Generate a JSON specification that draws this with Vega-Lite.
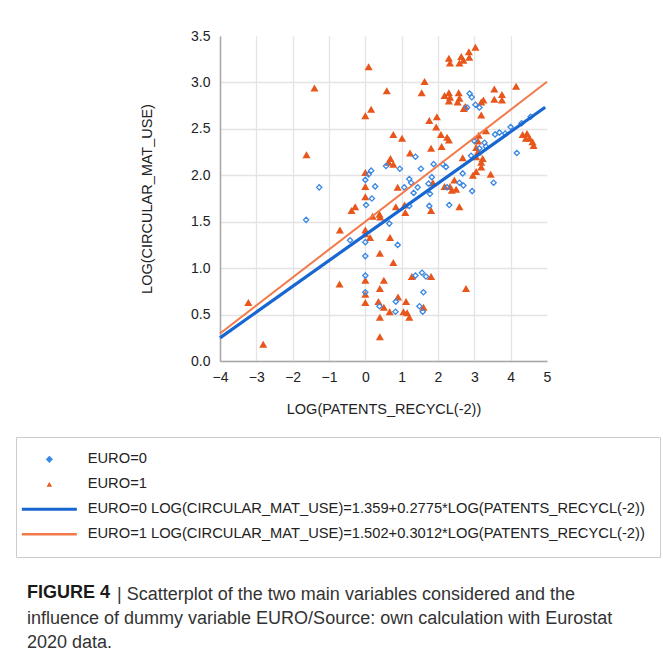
{
  "$schema": "https://vega.github.io/schema/vega-lite/v6.json",
  "autosize": {"type": "none"},
  "padding": {"left": 220, "top": 36, "right": 116, "bottom": 295},
  "width": 327,
  "height": 325,
  "background": "white",
  "config": {"view": {"stroke": null}, "font": "Liberation Sans"},
  "title": {
    "text": "FIGURE 4",
    "subtitle": [
      "\u200b\u2007\u2007\u2007\u2007\u2007\u2007\u2007\u2007\u2007| Scatterplot of the two main variables considered and the",
      "influence of dummy variable EURO/Source: own calculation with Eurostat",
      "2020 data."
    ],
    "orient": "bottom",
    "anchor": "start",
    "frame": "group",
    "offset": 26,
    "dx": -193,
    "font": "Liberation Sans",
    "fontSize": 18,
    "fontWeight": "bold",
    "color": "#1a1a1a",
    "lineHeight": 24,
    "subtitleFont": "Liberation Sans",
    "subtitleFontSize": 18,
    "subtitleFontWeight": "normal",
    "subtitleColor": "#333333",
    "subtitleLineHeight": 24,
    "subtitlePadding": -16
  },
  "datasets": {
    "euro0": [
      {"x": -1.63, "y": 1.52, "g": "EURO=0"}, {"x": -1.27, "y": 1.87, "g": "EURO=0"}, {"x": -0.42, "y": 1.30, "g": "EURO=0"},
      {"x": 0, "y": 1.28, "g": "EURO=0"}, {"x": 0, "y": 1.13, "g": "EURO=0"}, {"x": 0, "y": 0.92, "g": "EURO=0"},
      {"x": 0, "y": 0.74, "g": "EURO=0"}, {"x": 0.39, "y": 0.59, "g": "EURO=0"}, {"x": 0.83, "y": 0.53, "g": "EURO=0"},
      {"x": 0.84, "y": 0.64, "g": "EURO=0"}, {"x": 0.89, "y": 1.25, "g": "EURO=0"}, {"x": 0.66, "y": 1.48, "g": "EURO=0"},
      {"x": 0.02, "y": 1.68, "g": "EURO=0"}, {"x": 0.18, "y": 1.75, "g": "EURO=0"}, {"x": 0.27, "y": 1.88, "g": "EURO=0"},
      {"x": 0.09, "y": 2.01, "g": "EURO=0"}, {"x": 0.16, "y": 2.05, "g": "EURO=0"}, {"x": 0, "y": 1.95, "g": "EURO=0"},
      {"x": 0.57, "y": 2.10, "g": "EURO=0"}, {"x": 0.95, "y": 2.07, "g": "EURO=0"}, {"x": 1.07, "y": 1.87, "g": "EURO=0"},
      {"x": 1.38, "y": 2.20, "g": "EURO=0"}, {"x": 1.21, "y": 1.67, "g": "EURO=0"}, {"x": 1.33, "y": 1.81, "g": "EURO=0"},
      {"x": 1.26, "y": 1.92, "g": "EURO=0"}, {"x": 1.21, "y": 1.96, "g": "EURO=0"}, {"x": 1.44, "y": 1.87, "g": "EURO=0"},
      {"x": 1.53, "y": 2.07, "g": "EURO=0"}, {"x": 1.76, "y": 1.67, "g": "EURO=0"}, {"x": 1.78, "y": 1.80, "g": "EURO=0"},
      {"x": 1.74, "y": 1.91, "g": "EURO=0"}, {"x": 1.83, "y": 1.98, "g": "EURO=0"}, {"x": 1.88, "y": 2.12, "g": "EURO=0"},
      {"x": 1.38, "y": 0.92, "g": "EURO=0"}, {"x": 1.56, "y": 0.95, "g": "EURO=0"}, {"x": 1.67, "y": 0.91, "g": "EURO=0"},
      {"x": 1.60, "y": 0.74, "g": "EURO=0"}, {"x": 1.49, "y": 0.59, "g": "EURO=0"}, {"x": 1.58, "y": 0.53, "g": "EURO=0"},
      {"x": 2.22, "y": 2.09, "g": "EURO=0"}, {"x": 2.13, "y": 2.12, "g": "EURO=0"}, {"x": 2.25, "y": 1.87, "g": "EURO=0"},
      {"x": 2.31, "y": 1.68, "g": "EURO=0"}, {"x": 2.59, "y": 1.92, "g": "EURO=0"}, {"x": 2.70, "y": 1.89, "g": "EURO=0"},
      {"x": 2.68, "y": 2.02, "g": "EURO=0"}, {"x": 2.94, "y": 1.83, "g": "EURO=0"}, {"x": 3.53, "y": 1.92, "g": "EURO=0"},
      {"x": 2.91, "y": 2.21, "g": "EURO=0"}, {"x": 3.0, "y": 2.37, "g": "EURO=0"}, {"x": 3.32, "y": 2.31, "g": "EURO=0"},
      {"x": 3.57, "y": 2.44, "g": "EURO=0"}, {"x": 3.69, "y": 2.46, "g": "EURO=0"}, {"x": 4.0, "y": 2.52, "g": "EURO=0"},
      {"x": 4.17, "y": 2.24, "g": "EURO=0"}, {"x": 2.87, "y": 2.88, "g": "EURO=0"}, {"x": 2.93, "y": 2.84, "g": "EURO=0"},
      {"x": 2.80, "y": 2.73, "g": "EURO=0"}, {"x": 3.03, "y": 2.76, "g": "EURO=0"}, {"x": 3.14, "y": 2.73, "g": "EURO=0"},
      {"x": 3.28, "y": 2.35, "g": "EURO=0"}, {"x": 3.14, "y": 2.29, "g": "EURO=0"}, {"x": 4.30, "y": 2.56, "g": "EURO=0"},
      {"x": 4.55, "y": 2.63, "g": "EURO=0"}, {"x": 3.85, "y": 2.45, "g": "EURO=0"}
    ],
    "euro1": [
      {"x": -3.22, "y": 0.63, "g": "EURO=1"}, {"x": -2.81, "y": 0.18, "g": "EURO=1"}, {"x": -1.62, "y": 2.22, "g": "EURO=1"},
      {"x": -1.40, "y": 2.94, "g": "EURO=1"}, {"x": -0.70, "y": 1.41, "g": "EURO=1"}, {"x": -0.71, "y": 0.83, "g": "EURO=1"},
      {"x": -0.38, "y": 1.62, "g": "EURO=1"}, {"x": -0.28, "y": 1.66, "g": "EURO=1"}, {"x": 0, "y": 1.41, "g": "EURO=1"},
      {"x": 0, "y": 1.37, "g": "EURO=1"}, {"x": 0.13, "y": 1.33, "g": "EURO=1"}, {"x": 0, "y": 0.87, "g": "EURO=1"},
      {"x": 0, "y": 0.72, "g": "EURO=1"}, {"x": 0, "y": 0.63, "g": "EURO=1"}, {"x": 0, "y": 1.77, "g": "EURO=1"},
      {"x": 0, "y": 1.88, "g": "EURO=1"}, {"x": 0, "y": 2.03, "g": "EURO=1"}, {"x": 0, "y": 2.64, "g": "EURO=1"},
      {"x": 0.16, "y": 2.71, "g": "EURO=1"}, {"x": 0.09, "y": 3.17, "g": "EURO=1"}, {"x": 0.59, "y": 2.91, "g": "EURO=1"},
      {"x": 0.20, "y": 1.56, "g": "EURO=1"}, {"x": 0.39, "y": 1.58, "g": "EURO=1"}, {"x": 0.41, "y": 1.55, "g": "EURO=1"},
      {"x": 0.40, "y": 1.16, "g": "EURO=1"}, {"x": 0.68, "y": 1.33, "g": "EURO=1"}, {"x": 0.77, "y": 1.06, "g": "EURO=1"},
      {"x": 0.51, "y": 0.87, "g": "EURO=1"}, {"x": 0.40, "y": 0.78, "g": "EURO=1"}, {"x": 0.36, "y": 0.64, "g": "EURO=1"},
      {"x": 0.51, "y": 0.58, "g": "EURO=1"}, {"x": 0.40, "y": 0.47, "g": "EURO=1"}, {"x": 0.40, "y": 0.26, "g": "EURO=1"},
      {"x": 0.67, "y": 0.53, "g": "EURO=1"}, {"x": 0.90, "y": 0.69, "g": "EURO=1"}, {"x": 1.12, "y": 0.64, "g": "EURO=1"},
      {"x": 1.05, "y": 0.53, "g": "EURO=1"}, {"x": 1.15, "y": 0.52, "g": "EURO=1"}, {"x": 1.21, "y": 0.47, "g": "EURO=1"},
      {"x": 1.28, "y": 0.91, "g": "EURO=1"}, {"x": 1.81, "y": 0.91, "g": "EURO=1"}, {"x": 1.60, "y": 0.58, "g": "EURO=1"},
      {"x": 2.77, "y": 0.78, "g": "EURO=1"}, {"x": 0.84, "y": 1.66, "g": "EURO=1"}, {"x": 0.89, "y": 1.87, "g": "EURO=1"},
      {"x": 1.08, "y": 1.68, "g": "EURO=1"}, {"x": 1.10, "y": 1.60, "g": "EURO=1"}, {"x": 1.81, "y": 1.62, "g": "EURO=1"},
      {"x": 1.86, "y": 1.92, "g": "EURO=1"}, {"x": 2.18, "y": 1.88, "g": "EURO=1"}, {"x": 2.33, "y": 1.88, "g": "EURO=1"},
      {"x": 2.45, "y": 1.95, "g": "EURO=1"}, {"x": 2.38, "y": 1.84, "g": "EURO=1"}, {"x": 2.50, "y": 1.85, "g": "EURO=1"},
      {"x": 2.59, "y": 1.66, "g": "EURO=1"}, {"x": 0.64, "y": 2.14, "g": "EURO=1"}, {"x": 0.69, "y": 2.18, "g": "EURO=1"},
      {"x": 0.77, "y": 2.12, "g": "EURO=1"}, {"x": 1.23, "y": 2.24, "g": "EURO=1"}, {"x": 0.77, "y": 2.44, "g": "EURO=1"},
      {"x": 1.01, "y": 2.40, "g": "EURO=1"}, {"x": 1.81, "y": 2.29, "g": "EURO=1"}, {"x": 1.76, "y": 2.59, "g": "EURO=1"},
      {"x": 1.97, "y": 2.63, "g": "EURO=1"}, {"x": 1.95, "y": 2.52, "g": "EURO=1"}, {"x": 1.63, "y": 3.01, "g": "EURO=1"},
      {"x": 1.55, "y": 2.89, "g": "EURO=1"}, {"x": 2.08, "y": 2.44, "g": "EURO=1"}, {"x": 2.25, "y": 2.41, "g": "EURO=1"},
      {"x": 2.30, "y": 2.38, "g": "EURO=1"}, {"x": 2.10, "y": 2.31, "g": "EURO=1"}, {"x": 2.68, "y": 2.19, "g": "EURO=1"},
      {"x": 3.05, "y": 2.30, "g": "EURO=1"}, {"x": 3.10, "y": 2.25, "g": "EURO=1"}, {"x": 3.05, "y": 2.20, "g": "EURO=1"},
      {"x": 3.19, "y": 2.14, "g": "EURO=1"}, {"x": 3.23, "y": 2.18, "g": "EURO=1"}, {"x": 3.19, "y": 2.09, "g": "EURO=1"},
      {"x": 2.96, "y": 2.00, "g": "EURO=1"}, {"x": 3.05, "y": 2.04, "g": "EURO=1"}, {"x": 3.45, "y": 2.01, "g": "EURO=1"},
      {"x": 3.32, "y": 2.48, "g": "EURO=1"}, {"x": 3.12, "y": 2.43, "g": "EURO=1"}, {"x": 3.10, "y": 2.37, "g": "EURO=1"},
      {"x": 2.30, "y": 3.26, "g": "EURO=1"}, {"x": 2.33, "y": 3.21, "g": "EURO=1"}, {"x": 2.59, "y": 3.21, "g": "EURO=1"},
      {"x": 2.64, "y": 3.28, "g": "EURO=1"}, {"x": 2.70, "y": 3.24, "g": "EURO=1"}, {"x": 2.85, "y": 3.33, "g": "EURO=1"},
      {"x": 2.86, "y": 3.27, "g": "EURO=1"}, {"x": 3.03, "y": 3.38, "g": "EURO=1"}, {"x": 2.18, "y": 2.86, "g": "EURO=1"},
      {"x": 2.30, "y": 2.89, "g": "EURO=1"}, {"x": 2.33, "y": 2.84, "g": "EURO=1"}, {"x": 2.30, "y": 2.80, "g": "EURO=1"},
      {"x": 2.57, "y": 2.89, "g": "EURO=1"}, {"x": 2.59, "y": 2.83, "g": "EURO=1"}, {"x": 2.54, "y": 2.79, "g": "EURO=1"},
      {"x": 2.71, "y": 2.72, "g": "EURO=1"}, {"x": 2.75, "y": 2.74, "g": "EURO=1"}, {"x": 3.19, "y": 2.79, "g": "EURO=1"},
      {"x": 3.25, "y": 2.81, "g": "EURO=1"}, {"x": 3.19, "y": 2.65, "g": "EURO=1"}, {"x": 3.55, "y": 2.93, "g": "EURO=1"},
      {"x": 3.55, "y": 2.82, "g": "EURO=1"}, {"x": 3.76, "y": 2.87, "g": "EURO=1"}, {"x": 3.76, "y": 2.81, "g": "EURO=1"},
      {"x": 4.15, "y": 2.96, "g": "EURO=1"}, {"x": 4.33, "y": 2.44, "g": "EURO=1"}, {"x": 4.45, "y": 2.45, "g": "EURO=1"},
      {"x": 4.42, "y": 2.40, "g": "EURO=1"}, {"x": 4.52, "y": 2.40, "g": "EURO=1"}, {"x": 4.60, "y": 2.36, "g": "EURO=1"},
      {"x": 4.63, "y": 2.32, "g": "EURO=1"}
    ],
    "fit0": [
      {"x": -4, "y": 0.249, "g": "EURO=0 LOG(CIRCULAR_MAT_USE)=1.359+0.2775*LOG(PATENTS_RECYCL(-2))"},
      {"x": 4.95, "y": 2.733, "g": "EURO=0 LOG(CIRCULAR_MAT_USE)=1.359+0.2775*LOG(PATENTS_RECYCL(-2))"}
    ],
    "fit1": [
      {"x": -4, "y": 0.297, "g": "EURO=1 LOG(CIRCULAR_MAT_USE)=1.502+0.3012*LOG(PATENTS_RECYCL(-2))"},
      {"x": 5, "y": 3.008, "g": "EURO=1 LOG(CIRCULAR_MAT_USE)=1.502+0.3012*LOG(PATENTS_RECYCL(-2))"}
    ]
  },
  "encoding": {
    "x": {
      "field": "x", "type": "quantitative",
      "scale": {"domain": [-4, 5], "nice": false, "zero": false},
      "axis": {
        "title": "LOG(PATENTS_RECYCL(-2))",
        "values": [-4, -3, -2, -1, 0, 1, 2, 3, 4, 5],
        "grid": true, "ticks": false, "labelFlush": false, "labelOverlap": false,
        "domainColor": "#a8a8a8", "domainWidth": 1.5,
        "gridColor": {"condition": {"test": "datum.value == 5", "value": "transparent"}, "value": "#e4e4e4"},
        "gridWidth": 1.3,
        "labelFont": "Liberation Sans", "labelFontSize": 14, "labelColor": "#222222", "labelPadding": 9,
        "titleFont": "Liberation Sans", "titleFontSize": 14.5, "titleFontWeight": "normal", "titleColor": "#222222", "titlePadding": 18
      }
    },
    "y": {
      "field": "y", "type": "quantitative",
      "scale": {"domain": [0, 3.5], "nice": false},
      "axis": {
        "title": "LOG(CIRCULAR_MAT_USE)",
        "values": [0, 0.5, 1, 1.5, 2, 2.5, 3, 3.5],
        "format": ".1f",
        "grid": true, "ticks": false, "labelFlush": false, "labelOverlap": false,
        "domainColor": "#a8a8a8", "domainWidth": 1.5,
        "gridColor": {"condition": {"test": "datum.value == 3.5", "value": "transparent"}, "value": "#e4e4e4"},
        "gridWidth": 1.3,
        "labelFont": "Liberation Sans", "labelFontSize": 14, "labelColor": "#222222", "labelPadding": 10,
        "titleFont": "Liberation Sans", "titleFontSize": 14.5, "titleFontWeight": "normal", "titleColor": "#222222", "titlePadding": 36
      }
    },
    "color": {
      "field": "g", "type": "nominal",
      "scale": {
        "domain": ["EURO=0", "EURO=1", "EURO=0 LOG(CIRCULAR_MAT_USE)=1.359+0.2775*LOG(PATENTS_RECYCL(-2))", "EURO=1 LOG(CIRCULAR_MAT_USE)=1.502+0.3012*LOG(PATENTS_RECYCL(-2))"],
        "range": ["#3a88e6", "#e8561b", "#1766d2", "#f27a4a"]
      },
      "legend": {
        "title": null,
        "orient": "none",
        "legendX": -204,
        "legendY": 401,
        "padding": 15,
        "strokeColor": "#cccccc",
        "fillColor": "white",
        "labelFont": "Liberation Sans",
        "labelFontSize": 14.7,
        "labelColor": "#222222",
        "labelLimit": 800,
        "symbolSize": 100,
        "symbolOffset": 11,
        "labelOffset": 31,
        "rowPadding": 9,
        "encode": {
          "symbols": {
            "update": {
              "shape": {"signal": "datum.index == 0 ? 'diamond' : datum.index == 1 ? 'triangle-up' : 'stroke'"},
              "size": {"signal": "datum.index < 2 ? 30 : 3025"},
              "strokeWidth": {"signal": "datum.index == 0 ? 1.2 : datum.index == 1 ? 0 : datum.index == 2 ? 3 : 2.5"},
              "fill": {"signal": "datum.index == 0 ? '#3a88e6' : datum.index == 1 ? '#e8561b' : 'transparent'"},
              "stroke": {"signal": "datum.index == 0 ? '#3a88e6' : datum.index == 1 ? '#e8561b' : datum.index == 2 ? '#1766d2' : '#f27a4a'"},
              "opacity": {"value": 1}
            }
          }
        }
      }
    }
  },
  "layer": [
    {
      "data": {"name": "euro1"},
      "mark": {"type": "point", "shape": "triangle-up", "filled": true, "size": 65, "opacity": 1}
    },
    {
      "data": {"name": "euro0"},
      "mark": {"type": "point", "shape": "diamond", "filled": false, "size": 28, "strokeWidth": 1.3, "opacity": 1}
    },
    {
      "data": {"name": "fit0"},
      "mark": {"type": "line", "strokeWidth": 3.2}
    },
    {
      "data": {"name": "fit1"},
      "mark": {"type": "line", "strokeWidth": 2}
    }
  ]
}
